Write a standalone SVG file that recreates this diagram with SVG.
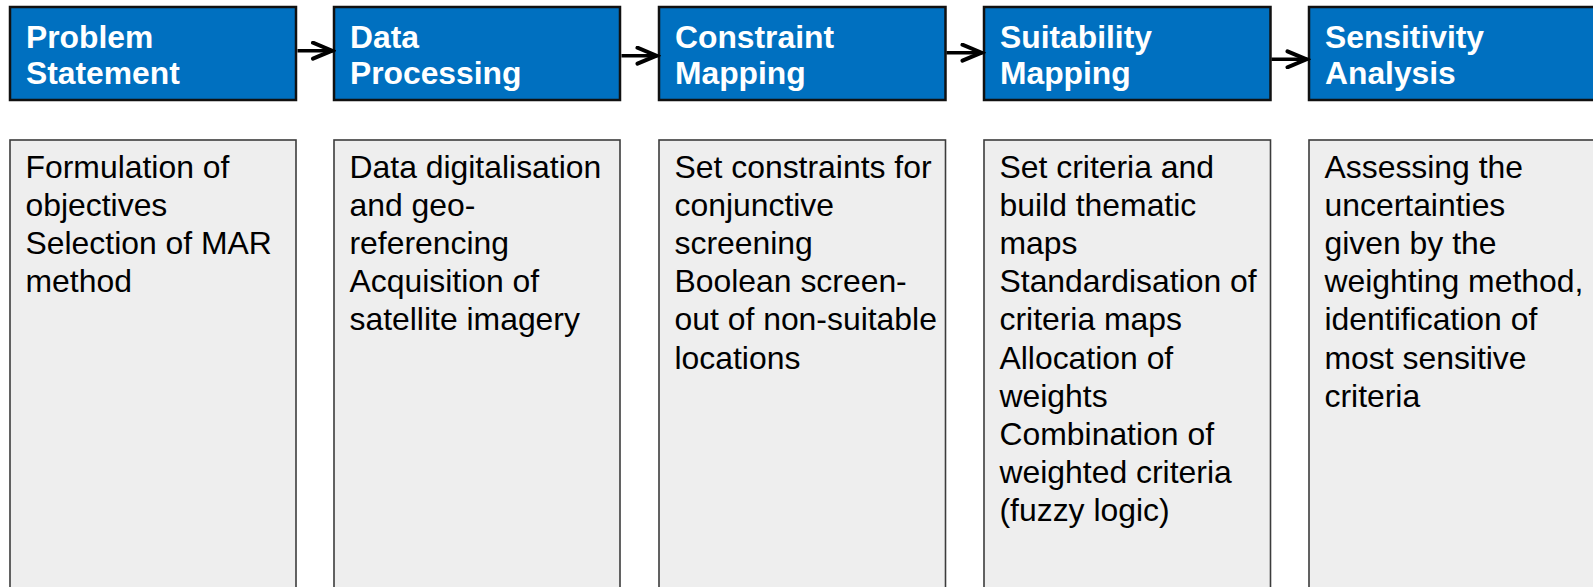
<svg xmlns="http://www.w3.org/2000/svg" width="1593" height="587" viewBox="0 0 1593 587">
  <defs>
    <style>
      .head rect { fill: #0070C0; stroke: #111111; stroke-width: 2.5; }
      .head text { font-family: "Liberation Sans", Arial, sans-serif; font-weight: bold; font-size: 31.8px; fill: #ffffff; }
      .body rect { fill: #EEEEEE; stroke: #3c3c3c; stroke-width: 1.6; }
      .body text { font-family: "Liberation Sans", Arial, sans-serif; font-size: 31.9px; fill: #000000; }
      .link { stroke: #000000; stroke-width: 3.4; fill: none; }
    </style>
    <marker id="chevron" viewBox="0 0 26 20" refX="23" refY="10" markerWidth="26" markerHeight="20" markerUnits="userSpaceOnUse" orient="auto">
      <path d="M3,2 L22,10 L3,18" fill="none" stroke="#000000" stroke-width="4" stroke-linecap="round" stroke-linejoin="miter"/>
    </marker>
  </defs>

  <!-- Step headers -->
  <g id="step-problem" class="head">
    <rect x="10" y="7" width="286" height="93"/>
    <text><tspan x="26" y="47.6">Problem</tspan><tspan x="26" y="84.3">Statement</tspan></text>
  </g>
  <g id="step-data" class="head">
    <rect x="334" y="7" width="286" height="93"/>
    <text><tspan x="350" y="47.6">Data</tspan><tspan x="350" y="84.3">Processing</tspan></text>
  </g>
  <g id="step-constraint" class="head">
    <rect x="659" y="7" width="286.5" height="93"/>
    <text><tspan x="675" y="47.6">Constraint</tspan><tspan x="675" y="84.3">Mapping</tspan></text>
  </g>
  <g id="step-suitability" class="head">
    <rect x="984" y="7" width="286.5" height="93"/>
    <text><tspan x="1000" y="47.6">Suitability</tspan><tspan x="1000" y="84.3">Mapping</tspan></text>
  </g>
  <g id="step-sensitivity" class="head">
    <rect x="1309" y="7" width="287" height="93"/>
    <text><tspan x="1325" y="47.6">Sensitivity</tspan><tspan x="1325" y="84.3">Analysis</tspan></text>
  </g>

  <!-- Step descriptions -->
  <g id="desc-problem" class="body">
    <rect x="10" y="140" width="286" height="460"/>
    <text>
      <tspan x="25.5" y="178">Formulation of</tspan>
      <tspan x="25.5" y="216.1">objectives</tspan>
      <tspan x="25.5" y="254.2">Selection of MAR</tspan>
      <tspan x="25.5" y="292.3">method</tspan>
    </text>
  </g>
  <g id="desc-data" class="body">
    <rect x="334" y="140" width="286" height="460"/>
    <text>
      <tspan x="349.5" y="178">Data digitalisation</tspan>
      <tspan x="349.5" y="216.1">and geo-</tspan>
      <tspan x="349.5" y="254.2">referencing</tspan>
      <tspan x="349.5" y="292.3">Acquisition of</tspan>
      <tspan x="349.5" y="330.4">satellite imagery</tspan>
    </text>
  </g>
  <g id="desc-constraint" class="body">
    <rect x="659" y="140" width="286.5" height="460"/>
    <text>
      <tspan x="674.5" y="178">Set constraints for</tspan>
      <tspan x="674.5" y="216.1">conjunctive</tspan>
      <tspan x="674.5" y="254.2">screening</tspan>
      <tspan x="674.5" y="292.3">Boolean screen-</tspan>
      <tspan x="674.5" y="330.4">out of non-suitable</tspan>
      <tspan x="674.5" y="368.5">locations</tspan>
    </text>
  </g>
  <g id="desc-suitability" class="body">
    <rect x="984" y="140" width="286.5" height="460"/>
    <text>
      <tspan x="999.5" y="178">Set criteria and</tspan>
      <tspan x="999.5" y="216.1">build thematic</tspan>
      <tspan x="999.5" y="254.2">maps</tspan>
      <tspan x="999.5" y="292.3">Standardisation of</tspan>
      <tspan x="999.5" y="330.4">criteria maps</tspan>
      <tspan x="999.5" y="368.5">Allocation of</tspan>
      <tspan x="999.5" y="406.6">weights</tspan>
      <tspan x="999.5" y="444.7">Combination of</tspan>
      <tspan x="999.5" y="482.8">weighted criteria</tspan>
      <tspan x="999.5" y="520.9">(fuzzy logic)</tspan>
    </text>
  </g>
  <g id="desc-sensitivity" class="body">
    <rect x="1309" y="140" width="287" height="460"/>
    <text>
      <tspan x="1324.5" y="178">Assessing the</tspan>
      <tspan x="1324.5" y="216.1">uncertainties</tspan>
      <tspan x="1324.5" y="254.2">given by the</tspan>
      <tspan x="1324.5" y="292.3">weighting method,</tspan>
      <tspan x="1324.5" y="330.4">identification of</tspan>
      <tspan x="1324.5" y="368.5">most sensitive</tspan>
      <tspan x="1324.5" y="406.6">criteria</tspan>
    </text>
  </g>

  <!-- Flow arrows between steps -->
  <g id="connectors">
    <line class="link" x1="297.5" y1="50.7" x2="333" y2="50.7" marker-end="url(#chevron)"/>
    <line class="link" x1="621.5" y1="55.7" x2="657.5" y2="55.7" marker-end="url(#chevron)"/>
    <line class="link" x1="946.5" y1="52.7" x2="982.5" y2="52.7" marker-end="url(#chevron)"/>
    <line class="link" x1="1271.5" y1="59.3" x2="1307.5" y2="59.3" marker-end="url(#chevron)"/>
  </g>
</svg>
